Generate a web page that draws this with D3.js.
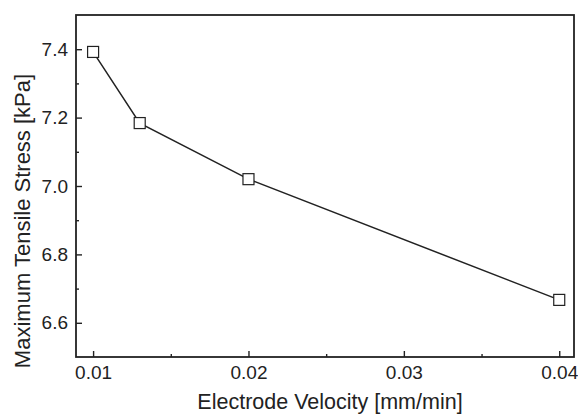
<!DOCTYPE html>
<html><head><meta charset="utf-8">
<script src="https://cdn.jsdelivr.net/npm/d3@7"></script>
<style>
html,body{margin:0;padding:0;background:#fff;}
svg{display:block;}
text{font-family:"Liberation Sans",Arial,sans-serif;fill:#222;}
</style></head>
<body>
<svg id="chart" width="578" height="415"></svg>
<script>
const velocity = [0.010, 0.013, 0.020, 0.040];
const stress = [7.392, 7.184, 7.020, 6.667];
const xTicks = [0.01, 0.02, 0.03, 0.04];
const xMinor = [0.015, 0.025, 0.035];
const yTicks = [6.6, 6.8, 7.0, 7.2, 7.4];
const yMinor = [6.7, 6.9, 7.1, 7.3];
const xTitle = "Electrode Velocity [mm/min]";
const yTitle = "Maximum Tensile Stress [kPa]";

const svg = d3.select("#chart");
const L = 76, R = 574, T = 15, B = 357;
const x = d3.scaleLinear().domain([0.0089, 0.04095]).range([L, R]);
const y = d3.scaleLinear().domain([6.5, 7.5]).range([B, T]);
const ink = "#222";

// frame
svg.append("rect").attr("x", L).attr("y", T).attr("width", R - L).attr("height", B - T)
  .attr("fill", "none").attr("stroke", ink).attr("stroke-width", 1.8);

// x axis (ticks inward)
const xAxis = d3.axisBottom(x).tickValues(xTicks).tickSize(-6).tickPadding(9)
  .tickFormat(d3.format(".2f"));
const gx = svg.append("g").attr("transform", `translate(0,${B})`).call(xAxis);
gx.select(".domain").remove();
const gxm = svg.append("g").attr("transform", `translate(0,${B})`)
  .call(d3.axisBottom(x).tickValues(xMinor).tickSize(-3).tickFormat(""));
gxm.select(".domain").remove();

// y axis
const yAxis = d3.axisLeft(y).tickValues(yTicks).tickSize(-6).tickPadding(8)
  .tickFormat(d3.format(".1f"));
const gy = svg.append("g").attr("transform", `translate(${L},0)`).call(yAxis);
gy.select(".domain").remove();
const gym = svg.append("g").attr("transform", `translate(${L},0)`)
  .call(d3.axisLeft(y).tickValues(yMinor).tickSize(-3).tickFormat(""));
gym.select(".domain").remove();

svg.selectAll(".tick line").attr("stroke", ink).attr("stroke-width", 1.4);
svg.selectAll(".tick text").attr("font-size", 19).attr("fill", ink)
  .attr("font-family", "'Liberation Sans', Arial, sans-serif");

// titles
svg.append("text").attr("x", 330).attr("y", 409).attr("text-anchor", "middle")
  .attr("font-size", 21.5).text(xTitle);
svg.append("text").attr("transform", `translate(30,221) rotate(-90)`)
  .attr("text-anchor", "middle").attr("font-size", 22).text(yTitle);

// line
const pts = velocity.map((v, i) => [v, stress[i]]);
svg.append("path").datum(pts)
  .attr("d", d3.line().x(d => x(d[0])).y(d => y(d[1])))
  .attr("fill", "none").attr("stroke", ink).attr("stroke-width", 1.5);

// markers
const s = 11;
svg.selectAll(".pt").data(pts).join("rect").attr("class", "pt")
  .attr("x", d => x(d[0]) - s / 2).attr("y", d => y(d[1]) - s / 2)
  .attr("width", s).attr("height", s)
  .attr("fill", "#fff").attr("stroke", ink).attr("stroke-width", 1.2);
</script>
</body></html>
